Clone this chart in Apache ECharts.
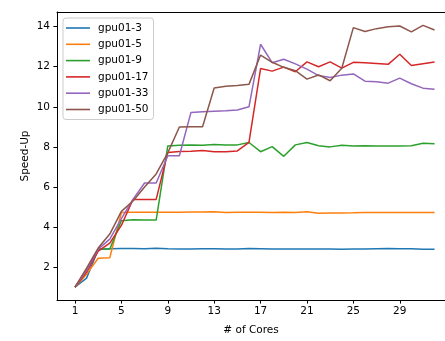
<!DOCTYPE html>
<html>
<head>
<meta charset="utf-8">
<script src="https://cdn.jsdelivr.net/npm/echarts@6/dist/echarts.min.js"></script>
<style>
html,body{margin:0;padding:0;background:#fff;}
#chart{width:445px;height:341px;}
</style>
</head>
<body>
<div id="chart"></div>
<script>
const cores = [1,2,3,4,5,6,7,8,9,10,11,12,13,14,15,16,17,18,19,20,21,22,23,24,25,26,27,28,29,30,31,32];
const xTicks = [1,5,9,13,17,21,25,29];
const yTicks = [2,4,6,8,10,12,14];
const seriesNames = ['gpu01-3','gpu01-5','gpu01-9','gpu01-17','gpu01-33','gpu01-50'];
const gpu3 = [1,1.45,2.88,2.92,2.93,2.93,2.92,2.94,2.92,2.91,2.91,2.92,2.92,2.91,2.91,2.93,2.92,2.91,2.91,2.91,2.91,2.91,2.91,2.89,2.91,2.91,2.92,2.93,2.92,2.92,2.89,2.89];
const gpu5 = [1,1.65,2.44,2.47,4.72,4.74,4.74,4.74,4.74,4.74,4.75,4.75,4.76,4.73,4.74,4.74,4.74,4.73,4.74,4.73,4.76,4.69,4.70,4.70,4.71,4.73,4.72,4.73,4.73,4.72,4.72,4.72];
const gpu9 = [1,1.8,2.9,2.9,4.32,4.36,4.35,4.35,8.05,8.08,8.09,8.08,8.12,8.1,8.1,8.22,7.76,8.01,7.53,8.1,8.22,8.06,8.0,8.08,8.04,8.06,8.05,8.05,8.05,8.06,8.18,8.16];
const gpu17 = [1,1.75,2.8,3.2,4.08,5.38,5.38,5.38,7.72,7.77,7.78,7.82,7.76,7.76,7.8,8.22,11.91,11.78,11.98,11.75,12.24,12.0,12.24,11.93,12.22,12.2,12.16,12.12,12.62,12.06,12.15,12.23];
const gpu33 = [1,1.85,2.9,3.4,4.42,5.38,6.2,6.2,7.56,7.56,9.72,9.75,9.78,9.8,9.84,10.0,13.12,12.2,12.37,12.14,11.88,11.56,11.46,11.58,11.64,11.28,11.25,11.18,11.43,11.15,10.93,10.88];
const gpu50 = [1,1.95,2.95,3.65,4.78,5.3,6.0,6.65,7.7,8.99,9.0,9.0,10.94,11.02,11.06,11.12,12.58,12.22,11.97,11.8,11.38,11.59,11.3,11.92,13.95,13.76,13.9,13.99,14.03,13.74,14.06,13.83];

const allData = [gpu3,gpu5,gpu9,gpu17,gpu33,gpu50];
const colors = ['#1f77b4','#ff7f0e','#2ca02c','#d62728','#9467bd','#8c564b'];
const FONT = 'DejaVu Sans';
const FS = 10.5;

const chart = echarts.init(document.getElementById('chart'), null, {renderer:'canvas'});
const option = {
  animation: false,
  backgroundColor: '#fff',
  color: colors,
  grid: {left: 57, right: 0, top: 12, bottom: 34, containLabel: false},
  legend: {
    orient: 'vertical',
    left: 63,
    top: 18,
    padding: [4, 5, 4, 3],
    backgroundColor: 'rgba(255,255,255,0.8)',
    borderColor: '#cccccc',
    borderWidth: 1,
    borderRadius: 3,
    icon: 'rect',
    itemWidth: 24,
    itemHeight: 1.6,
    itemGap: 4.3,
    textStyle: {fontFamily: FONT, fontSize: FS, color: '#000', padding: [0,0,0,3], lineHeight: 12},
    data: seriesNames
  },
  xAxis: [{
    type: 'value',
    min: -0.55,
    max: 32.9,
    name: '# of Cores',
    nameLocation: 'middle',
    nameGap: 25,
    nameMoveOverlap: false,
    nameTextStyle: {fontFamily: FONT, fontSize: FS, color: '#000'},
    axisLine: {show: true, onZero: false, lineStyle: {color: '#000', width: 1}},
    axisTick: {show: true, length: 3.6, customValues: xTicks, lineStyle: {color: '#000', width: 1}},
    axisLabel: {show: true, margin: 6, customValues: xTicks, fontFamily: FONT, fontSize: FS, color: '#000'},
    splitLine: {show: false}
  }, {
    type: 'value',
    position: 'top',
    min: -0.55,
    max: 32.9,
    axisLine: {show: true, onZero: false, lineStyle: {color: '#000', width: 1}},
    axisTick: {show: false},
    axisLabel: {show: false},
    splitLine: {show: false}
  }],
  yAxis: {
    type: 'value',
    min: 0.36,
    max: 14.73,
    name: 'Speed-Up',
    nameLocation: 'middle',
    nameGap: 26,
    nameMoveOverlap: false,
    nameTextStyle: {fontFamily: FONT, fontSize: FS, color: '#000'},
    axisLine: {show: true, onZero: false, lineStyle: {color: '#000', width: 1}},
    axisTick: {show: true, length: 3.6, customValues: yTicks, lineStyle: {color: '#000', width: 1}},
    axisLabel: {show: true, margin: 7, customValues: yTicks, fontFamily: FONT, fontSize: FS, color: '#000'},
    splitLine: {show: false}
  },
  series: seriesNames.map((n, i) => ({
    name: n,
    type: 'line',
    xAxisIndex: 0,
    showSymbol: false,
    symbol: 'none',
    lineStyle: {width: 1.5, color: colors[i]},
    itemStyle: {color: colors[i]},
    data: cores.map((c, j) => [c, allData[i][j]])
  }))
};
chart.setOption(option);
</script>
</body>
</html>
